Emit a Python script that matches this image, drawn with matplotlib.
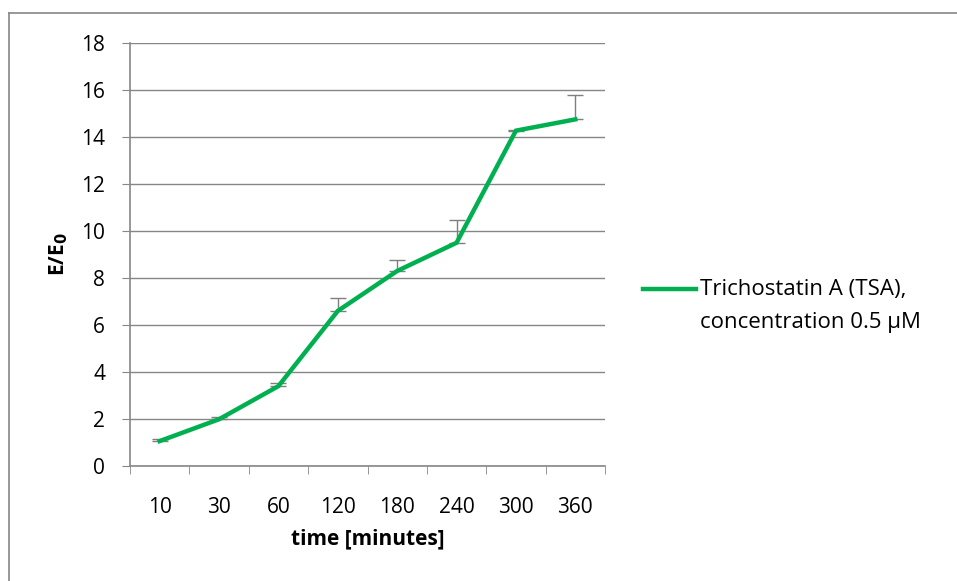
import matplotlib
matplotlib.use("Agg")
import matplotlib.pyplot as plt
from matplotlib.lines import Line2D
from matplotlib.legend_handler import HandlerLine2D
import numpy as np

categories = ["10", "30", "60", "120", "180", "240", "300", "360"]
values = [1.06, 1.99, 3.4, 6.6, 8.3, 9.5, 14.27, 14.75]
err_upper = [0.07, 0.08, 0.12, 0.54, 0.47, 0.97, 0.04, 1.05]
yticks = [0, 2, 4, 6, 8, 10, 12, 14, 16, 18]
series_label = "Trichostatin A (TSA),\nconcentration 0.5 µM"

plt.rcParams['font.family'] = ['Open Sans', 'DejaVu Sans']

W, H = 957, 581
fig = plt.figure(figsize=(W / 100, H / 100), dpi=100)
ax = fig.add_axes([130 / W, 1 - 466 / H, (605 - 130) / W, (466 - 43) / H])

x = np.arange(len(categories))
green = "#00b050"
ax.errorbar(x, values, yerr=[np.zeros(len(values)), err_upper], fmt='none',
            ecolor="#7f7f7f", elinewidth=1.0, capsize=6, capthick=1.0, zorder=2)
ax.plot(x, values, color=green, lw=3.2, solid_joinstyle='miter', zorder=3,
        label=series_label)

FS = 15
ax.set_xlim(-0.5, len(categories) - 0.5)
ax.set_ylim(0, 18)
ax.set_yticks(yticks)
ax.set_yticklabels([str(v) for v in yticks])
ax.set_xticks(x)
ax.set_xticklabels(categories)
ax.set_xticks(np.arange(-0.5, len(categories)), minor=True)
ax.tick_params(axis='x', which='major', length=0, pad=22, labelsize=FS)
ax.tick_params(axis='x', which='minor', length=6, color="#868686", direction='out')
ax.tick_params(axis='y', length=6, color="#868686", direction='out', pad=12, labelsize=FS)
ax.grid(axis='y', color="#868686", lw=1.0)
ax.set_axisbelow(True)
for s in ['top', 'right']:
    ax.spines[s].set_visible(False)
for s in ['left', 'bottom']:
    ax.spines[s].set_color("#868686")
    ax.spines[s].set_linewidth(1.2)

ax.set_ylabel("E/E$_\\mathbf{0}$", fontsize=FS, fontweight='bold', labelpad=8)
ax.set_xlabel("time [minutes]", fontsize=FS, fontweight='bold', labelpad=8)


class TopLineHandler(HandlerLine2D):
    def create_artists(self, legend, orig_handle, xdescent, ydescent, width,
                       height, fontsize, trans):
        arts = super().create_artists(legend, orig_handle, xdescent, ydescent,
                                      width, height, fontsize, trans)
        for a in arts:
            if isinstance(a, Line2D):
                a.set_ydata(np.asarray(a.get_ydata()) + 12.2)
        return arts


leg = fig.legend(loc='center left', bbox_to_anchor=(623 / W, 1 - 306 / H),
                 frameon=False, fontsize=16, handlelength=2.4, handletextpad=0.15,
                 handler_map={Line2D: TopLineHandler()})
for t in leg.get_texts():
    t.set_linespacing(1.7)

fig.add_artist(Line2D([9 / W, 1], [1 - 13 / H, 1 - 13 / H], color="#868686", lw=1.2))
fig.add_artist(Line2D([9 / W, 9 / W], [1 - 13 / H, 0], color="#868686", lw=1.2))

fig.savefig("out.png", dpi=100)
